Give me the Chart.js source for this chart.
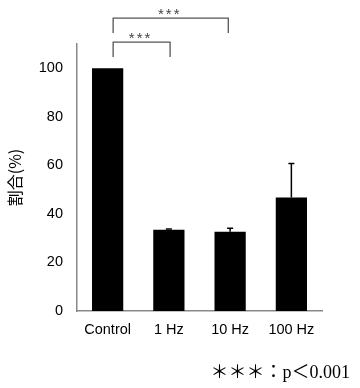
<!DOCTYPE html>
<html>
<head>
<meta charset="utf-8">
<script src="https://cdn.jsdelivr.net/npm/chart.js@4.4.1/dist/chart.umd.min.js"></script>
<style>
html,body{margin:0;padding:0;background:#fff;}
#wrap{width:360px;height:388px;position:relative;}
</style>
</head>
<body>
<div id="wrap"><canvas id="c" width="360" height="388"></canvas></div>
<script>
const categories = ['Control', '1 Hz', '10 Hz', '100 Hz'];
const values = [100, 33.5, 32.7, 46.8];
const errors = [0, 0.3, 1.4, 14];
const yTicks = [0, 20, 40, 60, 80, 100];
const yTitle = '割合(%)';
const sigLabel = '***';
const footnote = '＊＊＊：p＜0.001';
// significance brackets: [from category, to category, bracket top value, leg bottom value]
const brackets = [
  {from: 0.09, to: 1.02, top: 110.8, leg: 104.6},
  {from: 0.09, to: 1.97, top: 120.7, leg: 114.5}
];

const overlay = {
  id: 'overlay',
  afterDatasetsDraw(chart) {
    const ctx = chart.ctx;
    const x = chart.scales.x, y = chart.scales.y;
    ctx.save();
    // error bars (upward only)
    ctx.strokeStyle = '#000';
    ctx.lineWidth = 1.5;
    values.forEach((v, i) => {
      if (!errors[i]) return;
      const px = x.getPixelForValue(i);
      const y0 = y.getPixelForValue(v);
      const y1 = y.getPixelForValue(v + errors[i]);
      ctx.beginPath();
      ctx.moveTo(px, y0); ctx.lineTo(px, y1);
      ctx.moveTo(px - 3, y1); ctx.lineTo(px + 3, y1);
      ctx.stroke();
    });
    // brackets
    ctx.strokeStyle = '#555';
    ctx.lineWidth = 1.3;
    ctx.fillStyle = '#444';
    ctx.font = '15px "Liberation Sans", Arial, sans-serif';
    ctx.letterSpacing = '2px';
    ctx.textAlign = 'center';
    ctx.textBaseline = 'middle';
    brackets.forEach(b => {
      const xa = x.getPixelForValue(b.from), xb = x.getPixelForValue(b.to);
      const yt = y.getPixelForValue(b.top), yl = y.getPixelForValue(b.leg);
      ctx.beginPath();
      ctx.moveTo(xa, yl); ctx.lineTo(xa, yt); ctx.lineTo(xb, yt); ctx.lineTo(xb, yl);
      ctx.stroke();
      ctx.fillText(sigLabel, (xa + xb) / 2 - 1, yt - 3);
    });
    ctx.letterSpacing = '0px';
    // footnote
    ctx.fillStyle = '#000';
    ctx.font = '18px "Liberation Serif", "DejaVu Serif", "Noto Sans CJK JP", serif';
    ctx.textAlign = 'right';
    ctx.textBaseline = 'middle';
    ctx.fillText(footnote, 350, 373);
    ctx.restore();
  }
};

new Chart(document.getElementById('c'), {
  type: 'bar',
  data: {
    labels: categories,
    datasets: [{
      data: values,
      backgroundColor: '#000',
      borderWidth: 0,
      categoryPercentage: 1,
      barPercentage: 0.51
    }]
  },
  options: {
    responsive: false,
    animation: false,
    events: [],
    layout: {padding: {top: 44, right: 38, bottom: 0, left: 0}},
    plugins: {legend: {display: false}, tooltip: {enabled: false}, title: {display: false}},
    scales: {
      x: {
        grid: {display: false, drawTicks: false},
        border: {display: true, color: '#888', width: 1.5},
        ticks: {color: '#000', padding: 10, font: {family: '"Liberation Sans", Arial, sans-serif', size: 14.5}},
        afterFit(s) { s.height = 77; }
      },
      y: {
        min: 0, max: 110,
        grid: {display: false, drawTicks: false},
        border: {display: true, color: '#888', width: 1.5},
        afterBuildTicks(s) { s.ticks = yTicks.map(v => ({value: v})); },
        ticks: {color: '#000', padding: 14, font: {family: '"Liberation Sans", Arial, sans-serif', size: 14.5}},
        title: {display: true, text: yTitle, color: '#000', padding: {top: 5, bottom: 0},
          font: {family: '"Noto Sans CJK JP", sans-serif', size: 16}},
        afterFit(s) { s.width = 77; }
      }
    }
  },
  plugins: [overlay]
});
</script>
</body>
</html>
